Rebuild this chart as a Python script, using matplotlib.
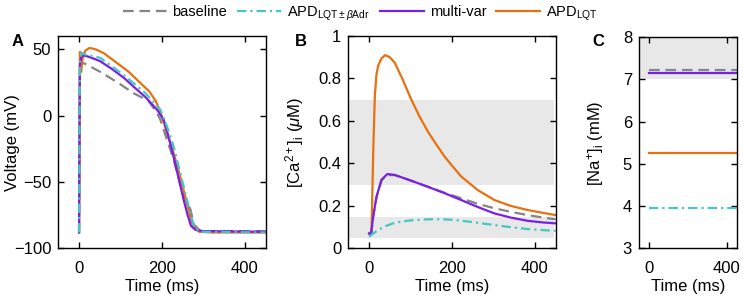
import numpy as np
import matplotlib.pyplot as plt

plt.rcParams['font.family'] = ['Liberation Sans', 'DejaVu Sans']
plt.rcParams['mathtext.fontset'] = 'custom'
plt.rcParams['mathtext.rm'] = 'Liberation Sans'
plt.rcParams['mathtext.it'] = 'Liberation Sans:italic'
plt.rcParams['mathtext.bf'] = 'Liberation Sans:bold'

# colours
c_base = '#858585'
c_adr = '#45c6c6'
c_multi = '#7a1fe6'
c_lqt = '#e8700e'
c_shade = '#e8e8e8'

# A: action potential (mV)
t_base_v = [0, 2, 6, 15, 27, 51, 95, 131, 168, 188, 196, 212, 228, 248, 269, 277, 293, 450]
v_base = [-88, 30, 40, 39, 37, 33, 24.6, 17, 11, 2, -3, -18, -33, -56, -71, -82, -87, -87]
t_adr_v = [0, 2, 6, 15, 30, 51, 80, 110, 131, 160, 196, 212, 228, 244, 260, 270, 277, 290, 450]
v_adr = [-88, 40, 47.5, 46, 45, 43.5, 37, 30, 24.6, 17, 4.5, -8, -23, -43, -63, -75, -83, -87.5, -88]
t_multi_v = [0, 2, 5, 10, 20, 35, 51, 80, 110, 131, 160, 188, 204, 216, 228, 240, 252, 262, 270, 281, 300, 450]
v_multi = [-88, 38, 44, 45.5, 44.7, 43, 41, 35, 28, 22, 14, 4.5, -3, -16, -31, -47, -63, -75, -83, -86, -87, -87.5]
t_lqt_v = [0, 2, 5, 8, 15, 25, 40, 60, 90, 120, 150, 170, 185, 196, 205, 215, 228, 244, 260, 270, 278, 290, 320, 450]
v_lqt = [-88, 48, 33, 42, 49, 51, 50, 47, 40, 33, 24, 18, 11, 3, -6, -16, -28, -46, -66, -78, -85, -87.5, -88, -88]

# B: calcium transient (uM)
t_base_ca = [0, 5, 10, 18, 30, 44, 62, 100, 142, 182, 222, 262, 302, 342, 382, 420, 450]
ca_base = [0.07, 0.07, 0.15, 0.24, 0.32, 0.345, 0.345, 0.32, 0.29, 0.262, 0.236, 0.21, 0.189, 0.172, 0.157, 0.145, 0.137]
t_adr_ca = [0, 10, 22, 40, 62, 100, 142, 180, 206, 250, 302, 342, 382, 420, 450]
ca_adr = [0.055, 0.07, 0.087, 0.105, 0.121, 0.132, 0.137, 0.137, 0.134, 0.124, 0.11, 0.1, 0.091, 0.086, 0.083]
t_multi_ca = [0, 5, 10, 18, 30, 44, 62, 100, 142, 182, 222, 262, 302, 342, 382, 420, 450]
ca_multi = [0.07, 0.07, 0.15, 0.244, 0.323, 0.35, 0.346, 0.32, 0.29, 0.26, 0.228, 0.195, 0.165, 0.145, 0.13, 0.122, 0.118]
t_lqt_ca = [0, 6, 10, 14, 18, 22, 30, 39, 50, 62, 80, 102, 122, 142, 162, 182, 202, 222, 262, 302, 342, 382, 420, 450]
ca_lqt = [0.07, 0.08, 0.45, 0.72, 0.82, 0.86, 0.895, 0.91, 0.9, 0.874, 0.8, 0.70, 0.62, 0.55, 0.49, 0.433, 0.385, 0.339, 0.275, 0.228, 0.2, 0.181, 0.167, 0.157]

# C: sodium (mM), constant over the beat
t_na = [0, 450]
na_base = 7.23
na_adr = 3.95
na_multi = 7.16
na_lqt = 5.27

# experimental ranges (shaded)
ca_ranges = [(0.3, 0.7), (0.05, 0.15)]
na_ranges = [(7.0, 8.0)]
shade_t = (-50, 445)

lw = 1.6
styles = {
    'base': dict(color=c_base, lw=lw, dashes=[4.8, 2.6]),
    'adr': dict(color=c_adr, lw=lw, dashes=[4.2, 1.8, 1.0, 1.8]),
    'multi': dict(color=c_multi, lw=lw),
    'lqt': dict(color=c_lqt, lw=lw),
}

fig = plt.figure(figsize=(7.43, 3.0), dpi=100)
axA = fig.add_axes([0.0785, 0.172, 0.279, 0.708])
axB = fig.add_axes([0.4688, 0.172, 0.279, 0.708])
axC = fig.add_axes([0.860, 0.172, 0.1315, 0.704])

for ax in (axA, axB, axC):
    ax.tick_params(direction='in', top=True, right=True, length=4, width=1, labelsize=12, pad=5)
    ax.tick_params(axis='x', pad=9)
    for s in ax.spines.values():
        s.set_linewidth(1.0)
    ax.set_xlim(-50, 450)
    ax.set_xlabel('Time (ms)', fontsize=12, labelpad=2)

# A
axA.plot(t_base_v, v_base, **styles['base'])
axA.plot(t_lqt_v, v_lqt, **styles['lqt'])
axA.plot(t_multi_v, v_multi, **styles['multi'])
axA.plot(t_adr_v, v_adr, **styles['adr'])
axA.set_ylim(-100, 60)
axA.set_yticks([-100, -50, 0, 50])
axA.set_xticks([0, 200, 400])
axA.set_ylabel('Voltage (mV)', fontsize=12)
axA.yaxis.set_label_coords(-0.185, 0.5)

# B
for lo, hi in ca_ranges:
    axB.fill_between(shade_t, lo, hi, color=c_shade, lw=0, zorder=0)
axB.plot(t_lqt_ca, ca_lqt, **styles['lqt'])
axB.plot(t_base_ca, ca_base, **styles['base'])
axB.plot(t_multi_ca, ca_multi, **styles['multi'])
axB.plot(t_adr_ca, ca_adr, **styles['adr'])
axB.set_ylim(0, 1)
axB.set_yticks([0, 0.2, 0.4, 0.6, 0.8, 1])
axB.set_yticklabels(['0', '0.2', '0.4', '0.6', '0.8', '1'])
axB.set_xticks([0, 200, 400])
axB.set_ylabel(r'[Ca$^{2+}$]$_{\rm i}$ ($\mu$M)', fontsize=12)
axB.yaxis.set_label_coords(-0.205, 0.5)

# C
for lo, hi in na_ranges:
    axC.fill_between(shade_t, lo, hi, color=c_shade, lw=0, zorder=0)
hb, = axC.plot(t_na, [na_base] * 2, **styles['base'])
ha, = axC.plot(t_na, [na_adr] * 2, **styles['adr'])
hm, = axC.plot(t_na, [na_multi] * 2, **styles['multi'])
hl, = axC.plot(t_na, [na_lqt] * 2, **styles['lqt'])
axC.set_ylim(3, 8)
axC.set_yticks([3, 4, 5, 6, 7, 8])
axC.set_xticks([0, 400])
axC.set_ylabel(r'[Na$^{+}$]$_{\rm i}$ (mM)', fontsize=12)
axC.yaxis.set_label_coords(-0.34, 0.5)

# panel letters
fig.text(0.016, 0.887, 'A', fontsize=12, fontweight='bold', va='top')
fig.text(0.397, 0.887, 'B', fontsize=12, fontweight='bold', va='top')
fig.text(0.797, 0.887, 'C', fontsize=12, fontweight='bold', va='top')

fig.legend([hb, ha, hm, hl],
           ['baseline', r'APD$_{\rm LQT\pm\mathit{\beta}Adr}$', 'multi-var', r'APD$_{\rm LQT}$'],
           loc='center', bbox_to_anchor=(0.485, 0.955), ncol=4, frameon=False,
           fontsize=10.5, handlelength=3.0, handletextpad=0.4, columnspacing=0.7)

fig.savefig('out.png', dpi=100)
